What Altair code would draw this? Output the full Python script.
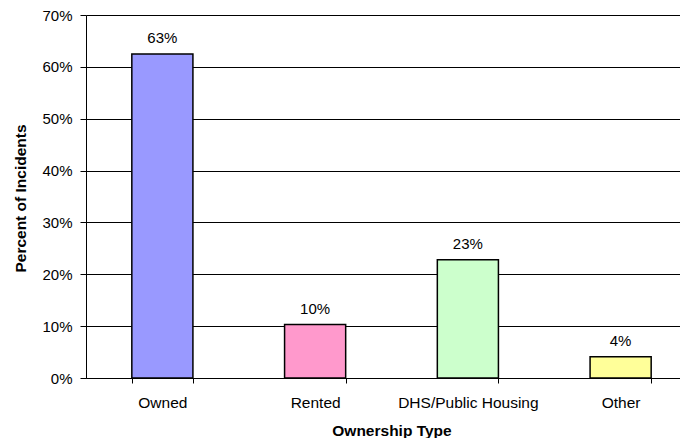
import altair as alt
import pandas as pd

categories = ["Owned", "Rented", "DHS/Public Housing", "Other"]
percent = [0.625, 0.103, 0.228, 0.041]
labels = ["63%", "10%", "23%", "4%"]
colors = ["#9999FF", "#FF99CC", "#CCFFCC", "#FFFF99"]
y_ticks = [0, 0.1, 0.2, 0.3, 0.4, 0.5, 0.6, 0.7]

df = pd.DataFrame({"cat": categories, "pct": percent, "label": labels})

FONT = "Liberation Sans"

x = alt.X(
    "cat:N", sort=categories, title="Ownership Type",
    scale=alt.Scale(range=[0, 611], paddingInner=0.6, paddingOuter=0.3),
    axis=alt.Axis(
        labelAngle=0, tickBand="extent", tickSize=5, labelPadding=12,
        labelFontSize=15.5, labelFont=FONT, labelColor="black",
        titleFont=FONT, titleFontSize=15.5, titleFontWeight="bold", titleColor="black",
        titleBaseline="alphabetic", titleX=305.5, titleY=57,
        domainColor="black", tickColor="black", grid=False,
    ),
)
y = alt.Y(
    "pct:Q", title="Percent of Incidents",
    scale=alt.Scale(domain=[0, 0.7], nice=False),
    axis=alt.Axis(
        values=y_ticks, format=".0%", tickSize=6, labelPadding=8,
        labelFontSize=15, labelFont=FONT, labelColor="black",
        titleFont=FONT, titleFontSize=15.5, titleFontWeight="bold", titleColor="black",
        titleBaseline="alphabetic", titleX=-61, titleY=183, titleAngle=-90,
        domainColor="black", tickColor="black",
        grid=True, gridColor="black", gridWidth=1, gridOpacity=1,
    ),
)

bars = alt.Chart(df).mark_bar(stroke="black", strokeWidth=1.5).encode(
    x=x, y=y,
    color=alt.Color("cat:N", scale=alt.Scale(domain=categories, range=colors), legend=None),
)
text = alt.Chart(df).mark_text(
    baseline="alphabetic", dy=-11, font=FONT, fontSize=15, color="black"
).encode(x=alt.X("cat:N", sort=categories), y="pct:Q", text="label:N")

chart = alt.layer(bars, text).properties(
    width=594, height=363,
    autosize=alt.AutoSizeParams(type="none"),
    padding={"left": 78, "top": 7, "right": 0, "bottom": 60},
).configure_view(stroke=None)

chart.save("out.html", embed_options={"renderer": "svg", "actions": False})
